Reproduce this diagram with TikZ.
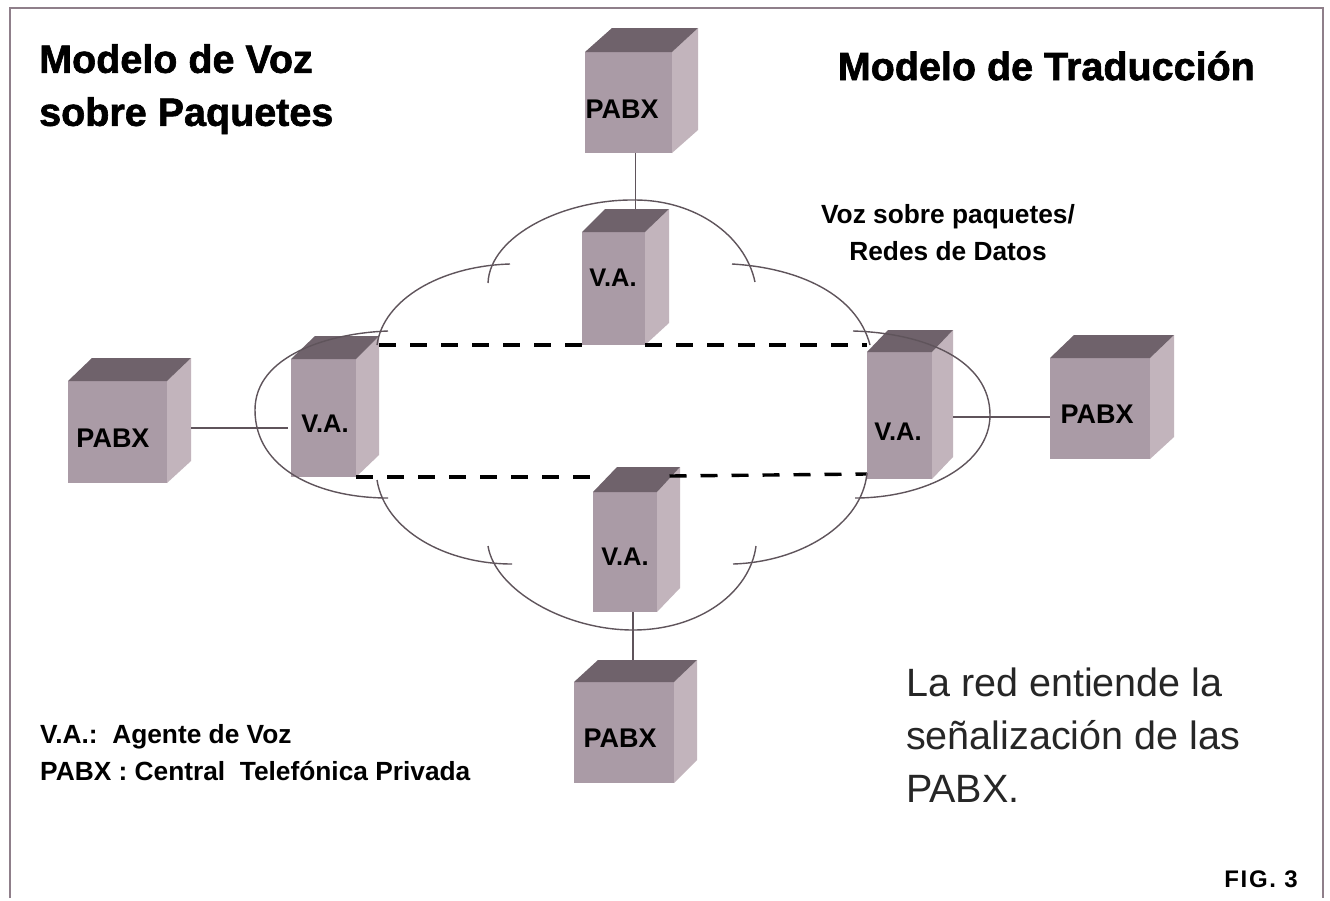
\documentclass[tikz,border=0pt]{standalone}
\usepackage{fontspec}
\setmainfont{Liberation Sans}
\newfontfamily\heavyfont[FakeBold=1.6]{Liberation Sans Bold}
\newfontfamily\figfont[LetterSpace=7]{Liberation Sans Bold}
\definecolor{cfront}{HTML}{AA9BA6}
\definecolor{cside}{HTML}{C2B4BC}
\definecolor{ctop}{HTML}{6F626B}
\definecolor{cline}{HTML}{5F545B}
\definecolor{cframe}{HTML}{8F7F8A}
\tikzset{
 x=1pt,y=-1pt,
 frontface/.style={fill=cfront,inner sep=0pt,outer sep=0pt,anchor=north west},
 sideface/.style={fill=cside},
 topface/.style={fill=ctop},
 vlabel/.style={font=\bfseries\fontsize{25.5}{25.5}\selectfont,text=black},
 plabel/.style={font=\bfseries\fontsize{27}{27}\selectfont,text=black},
 titletext/.style={font=\heavyfont\fontsize{39.5}{53}\selectfont,align=left,anchor=north west,inner sep=0pt},
 smalltext/.style={font=\bfseries\fontsize{26.3}{37}\selectfont,inner sep=0pt},
 cloudarc/.style={draw=cline,line width=1.4pt},
 link/.style={draw=cline,line width=1.4pt},
 dashlink/.style={draw=black,line width=3.4pt,dash pattern=on 17pt off 14pt},
}
% name, x0, ytop, x1 (front right), ybottom, back left x, right x, back top y, side bottom y
\newcommand{\cube}[9]{%
 \node[frontface,minimum width=#4-#2,minimum height=#5-#3] (#1) at (#2,#3) {};
 \fill[sideface] (#4,#3) -- (#7,#8) -- (#7,#9) -- (#4,#5) -- cycle;
 \fill[topface] (#2,#3) -- (#6,#8) -- (#7,#8) -- (#4,#3) -- cycle;
 \coordinate (#1-back) at ({(#6+#7)/2},#8);
 \coordinate (#1-side) at (#7,{(#8+#9)/2});
 \coordinate (#1-corner) at (#7,#3);
}
\begin{document}
\begin{tikzpicture}
\useasboundingbox (0,0) rectangle (1330,900);
\fill[white] (0,0) rectangle (1330,900);
\draw[cframe,line width=1.5pt] (10,898) -- (10,8) -- (1323,8) -- (1323,898);
% cubes
\cube{ptop}{585}{52}{672}{153}{612}{698}{28}{130}
\cube{vtop}{582}{232}{645}{345}{605}{669}{209}{323}
\cube{vleft}{291}{359}{356}{477}{315}{379}{336}{455}
\cube{vright}{867}{352}{932}{479}{888}{953}{330}{457}
\cube{vbot}{593}{492}{657}{612}{617}{680}{467}{588}
\cube{pbot}{574}{682}{674}{783}{598}{697}{660}{760}
\cube{pleft}{68}{381}{167}{483}{92}{191}{358}{461}
\cube{pright}{1050}{358}{1150}{459}{1074}{1174}{335}{437}
% labels
\node[plabel] (lptop) at (622,109) {PABX};
\node[vlabel] (lvtop) at (613,278) {V.A.};
\node[vlabel] (lvleft) at (325,424) {V.A.};
\node[vlabel] (lvright) at (898,432) {V.A.};
\node[vlabel] (lvbot) at (625,557) {V.A.};
\node[plabel] (lpbot) at (620,738) {PABX};
\node[plabel] (lpleft) at (113,438) {PABX};
\node[plabel] (lpright) at (1097,414) {PABX};
% connectors
\draw[link] ([xshift=7pt]ptop.south) -- ([xshift=7pt]ptop.south |- vtop-back);
\draw[link] ([xshift=8pt]vbot.south) -- ([xshift=8pt]vbot.south |- pbot-back);
\draw[link] (pleft-side |- 0,428) -- ([xshift=-3pt]vleft.west |- 0,428);
\draw[link] (vright-side |- 0,417) -- (pright.west |- 0,417);
% dashed links
\draw[dashlink] (vleft-corner |- 0,345) -- (vtop.south west);
\draw[dashlink] (vtop.south east) -- (vright.west |- 0,345);
\draw[dashlink] (vleft.south east) -- (vbot.west |- 0,477);
\draw[dashlink] (vbot-back |- 0,476) ++(21,0) -- (vright.west |- 0,474);
% cloud
\draw[cloudarc] (488,283) .. controls (490,235) and (565,199) .. (635,200) .. controls (695,200) and (745,235) .. (755,282);
\draw[cloudarc] (510,264) .. controls (440,266) and (383,300) .. (377,345);
\draw[cloudarc] (732,264) .. controls (800,268) and (857,295) .. (870,345);
\draw[cloudarc] (388,331) .. controls (330,333) and (255,355) .. (255,410) .. controls (255,470) and (320,498) .. (388,498);
\draw[cloudarc] (853,331) .. controls (925,333) and (990,360) .. (990,415) .. controls (990,465) and (925,498) .. (855,498);
\draw[cloudarc] (867,473) .. controls (862,525) and (800,562) .. (733,564);
\draw[cloudarc] (488,546) .. controls (495,590) and (565,630) .. (633,630) .. controls (700,630) and (750,592) .. (756,546);
\draw[cloudarc] (377,480) .. controls (385,530) and (445,564) .. (512,564);
% texts
\node[titletext] (t1) at (39,44) {Modelo de Voz\\sobre Paquetes};
\node[titletext,anchor=north east] (t2) at (1255,51) {Modelo de Traducción};
\node[smalltext,align=center] (t3) at (948,233) {Voz sobre paquetes/\\Redes de Datos};
\node[smalltext,align=left,anchor=north west] (t4) at (40,724) {V.A.:\ \ Agente de Voz\\PABX : Central\ \ Telefónica Privada};
\node[font=\fontsize{39.5}{53}\selectfont,align=left,anchor=north west,inner sep=0pt,text=black!85] (t5) at (906,668) {La red entiende la\\señalización de las\\PABX.};
\node[font=\figfont\fontsize{24}{24}\selectfont,anchor=east,inner sep=0pt] (t6) at (1298,879) {FIG. 3};
\end{tikzpicture}
\end{document}
